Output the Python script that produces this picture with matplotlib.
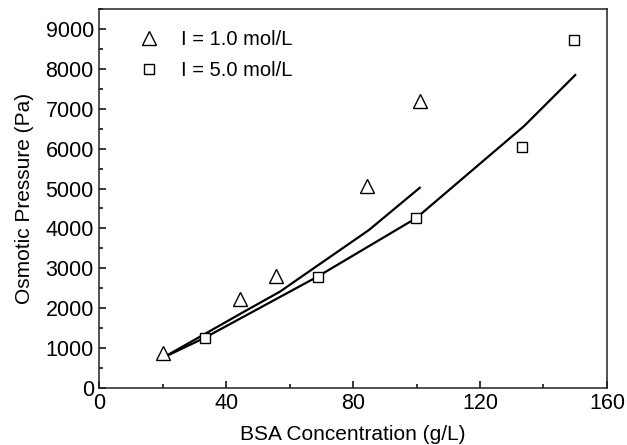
import matplotlib
matplotlib.use("Agg")
import matplotlib.pyplot as plt
from matplotlib.ticker import MultipleLocator

plt.rcParams['font.family'] = ['Liberation Sans', 'DejaVu Sans']

# Experimental data
x_i1 = [20, 44.5, 55.7, 84.5, 101]
y_i1 = [870, 2230, 2800, 5070, 7200]
x_i5 = [33.3, 68.8, 99.8, 133.2, 149.6]
y_i5 = [1256, 2790, 4254, 6045, 8740]

# Model curves
xm_i1 = [20, 45, 56.9, 85, 101]
ym_i1 = [750, 1880, 2410, 3960, 5020]
xm_i5 = [20, 33.3, 68.8, 99.8, 133.9, 150]
ym_i5 = [750, 1256, 2790, 4254, 6570, 7850]

labels = ['I = 1.0 mol/L', 'I = 5.0 mol/L']

fig = plt.figure(figsize=(6.27, 4.45), dpi=100)
ax = fig.add_axes([0.1584, 0.1288, 0.968 - 0.1584, 0.979 - 0.1288])

ax.plot(xm_i1, ym_i1, color='black', lw=1.6, zorder=2)
ax.plot(xm_i5, ym_i5, color='black', lw=1.6, zorder=2)
ax.plot(x_i1, y_i1, ls='none', marker='^', ms=9.4, mfc='white', mec='black',
        mew=1.0, label=labels[0], zorder=3)
ax.plot(x_i5, y_i5, ls='none', marker='s', ms=7.4, mfc='white', mec='black',
        mew=1.0, label=labels[1], zorder=3)

ax.set_xlim(0, 160)
ax.set_ylim(0, 9500)
ax.xaxis.set_major_locator(MultipleLocator(40))
ax.xaxis.set_minor_locator(MultipleLocator(20))
ax.yaxis.set_major_locator(MultipleLocator(1000))
ax.yaxis.set_minor_locator(MultipleLocator(500))

ax.tick_params(which='both', direction='in', top=False, right=False,
               labelsize=15.5, width=1.1, colors='black')
ax.tick_params(which='major', length=5, pad=4)
ax.tick_params(which='minor', length=2.6)
for s in ax.spines.values():
    s.set_linewidth(1.1)
    s.set_color('#222222')

ax.set_xlabel('BSA Concentration (g/L)', fontsize=15, labelpad=7.5)
ax.set_ylabel('Osmotic Pressure (Pa)', fontsize=15, labelpad=8)

leg = ax.legend(loc='upper left', bbox_to_anchor=(0.05, 0.977), frameon=False,
                fontsize=14.5, handlelength=1.2, handletextpad=1.0,
                labelspacing=0.6, borderaxespad=0.2)

fig.savefig('out.png', dpi=100)
